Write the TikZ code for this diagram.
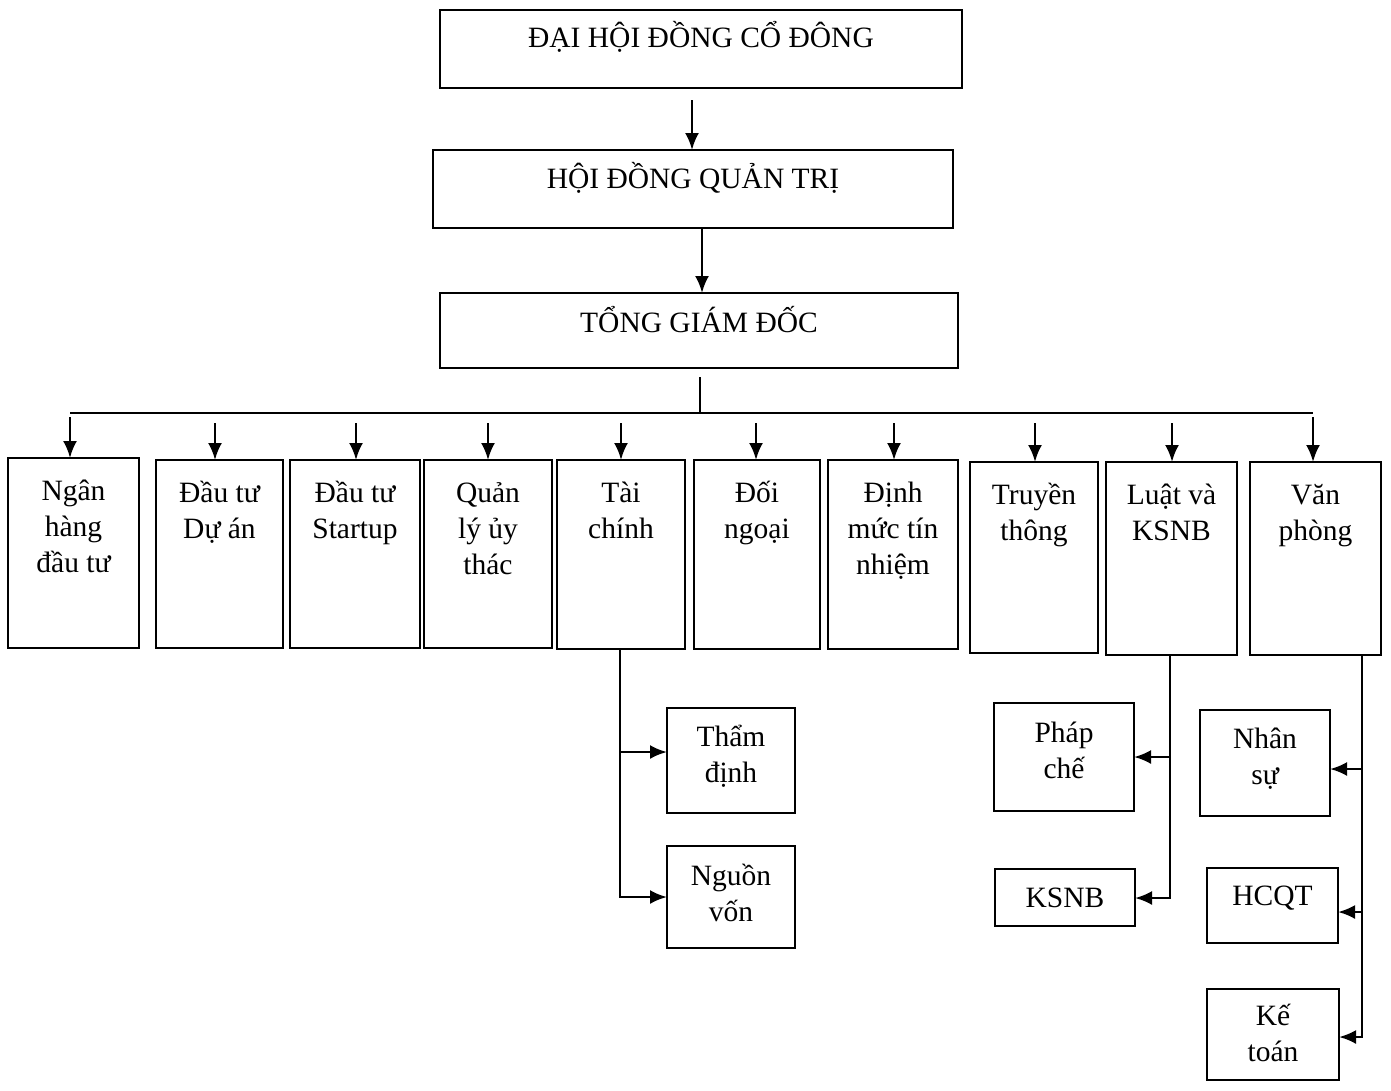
\documentclass[tikz,border=0pt]{standalone}
\usepackage{fontspec}
\setmainfont{Liberation Serif}
\usetikzlibrary{arrows.meta}
\newcommand\bxt[4]{\parbox[c][#2][t]{#1}{\centering\rule{0pt}{#3}#4}}
\begin{document}
\begin{tikzpicture}[x=1pt,y=-1pt,
  box/.style={draw, line width=2.6pt, inner sep=0pt, outer sep=0pt, font=\fontsize{29.5}{36}\selectfont},
  conn/.style={line width=2.5pt},
  arr/.style={line width=2.5pt, -{Latex[length=17pt,width=14pt]}}]
\useasboundingbox[fill=white] (0,0) rectangle (1391,1090);

% top chain
\node[box] (dh) at (701,49)  {\bxt{522pt}{78pt}{37pt}{ĐẠI HỘI ĐỒNG CỔ ĐÔNG}};
\node[box] (hq) at (693,189) {\bxt{520pt}{78pt}{38pt}{HỘI ĐỒNG QUẢN TRỊ}};
\node[box] (tg) at (699,330.5) {\bxt{518pt}{75pt}{39pt}{TỔNG GIÁM ĐỐC}};

% departments
\node[box] (r1)  at (73.5,553)    {\bxt{131pt}{190pt}{42pt}{Ngân\\hàng\\đầu tư}};
\node[box] (r2)  at (219.5,554)   {\bxt{127pt}{188pt}{42pt}{Đầu tư\\Dự án}};
\node[box] (r3)  at (355,554)     {\bxt{130pt}{188pt}{42pt}{Đầu tư\\Startup}};
\node[box] (r4)  at (488,554)     {\bxt{128pt}{188pt}{42pt}{Quản\\lý ủy\\thác}};
\node[box] (r5)  at (621,554.5)   {\bxt{128pt}{189pt}{42pt}{Tài\\chính}};
\node[box] (r6)  at (757,554.5)   {\bxt{126pt}{189pt}{42pt}{Đối\\ngoại}};
\node[box] (r7)  at (893,554.5)   {\bxt{130pt}{189pt}{42pt}{Định\\mức tín\\nhiệm}};
\node[box] (r8)  at (1034,557.5)  {\bxt{128pt}{191pt}{42pt}{Truyền\\thông}};
\node[box] (r9)  at (1171.5,558.5){\bxt{131pt}{193pt}{42pt}{Luật và\\KSNB}};
\node[box] (r10) at (1315.5,558.5){\bxt{131pt}{193pt}{42pt}{Văn\\phòng}};

% sub units
\node[box] (td) at (731,760.5)   {\bxt{128pt}{105pt}{38pt}{Thẩm\\định}};
\node[box] (nv) at (731,897)     {\bxt{128pt}{102pt}{39pt}{Nguồn\\vốn}};
\node[box] (pc) at (1064,757)    {\bxt{140pt}{108pt}{39pt}{Pháp\\chế}};
\node[box] (ks) at (1065,897.5)  {\bxt{140pt}{57pt}{38pt}{KSNB}};
\node[box] (ns) at (1265,763)    {\bxt{130pt}{106pt}{38pt}{Nhân\\sự}};
\node[box] (hc) at (1272.5,905.5){\bxt{131pt}{75pt}{37pt}{HCQT}};
\node[box] (kt) at (1273,1034.5) {\bxt{132pt}{91pt}{36pt}{Kế\\toán}};

% top connectors
\coordinate (a0) at (692,100);
\draw[arr] (a0) -- (a0 |- hq.north);
\coordinate (a1) at (702,0);
\draw[arr] (a1 |- hq.south) -- (a1 |- tg.north);

% bus
\coordinate (busL) at (70,413);
\coordinate (busR) at (1313,413);
\coordinate (b0) at (700,0);
\draw[conn] (busL) -- (busR);
\draw[conn, shorten <=9pt] (tg.south -| b0) -- (b0 |- busL);
\foreach \x/\y/\n in {70/417/r1, 215/423/r2, 356/423/r3, 488/423/r4, 621/423/r5,
                      756/423/r6, 894/423/r7, 1035/423/r8, 1172/423/r9, 1313/417/r10}
  \draw[arr] (\x,\y) -- (\x,0 |- \n.north);

% Tai chinh branch
\coordinate (t1) at (620,897);
\draw[arr] (r5.south -| t1) -- (t1) -- (t1 -| nv.west);
\draw[arr] (620,752) -- (td.west |- 0,752);

% Luat va KSNB branch
\coordinate (t2) at (1170,898);
\draw[arr] (r9.south -| t2) -- (t2) -- (t2 -| ks.east);
\draw[arr] (1170,757) -- (pc.east |- 0,757);

% Van phong branch
\coordinate (t3) at (1362,1037);
\draw[arr] (r10.south -| t3) -- (t3) -- (t3 -| kt.east);
\draw[arr] (1362,769) -- (ns.east |- 0,769);
\draw[arr] (1362,912) -- (hc.east |- 0,912);
\end{tikzpicture}
\end{document}
